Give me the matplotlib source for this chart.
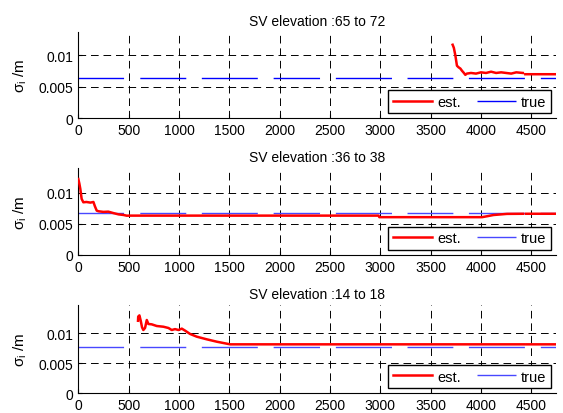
import numpy as np
import matplotlib
matplotlib.use('Agg')
import matplotlib.pyplot as plt

plt.rcParams['font.family'] = ['Liberation Sans', 'DejaVu Sans']
plt.rcParams['font.size'] = 10
plt.rcParams['lines.scale_dashes'] = False

titles = ['SV elevation :65 to 72', 'SV elevation :36 to 38', 'SV elevation :14 to 18']

# estimated sigma_i per run (nan = break in the trace)
est_x1 = [3718, 3730, 3745, 3761, 3777, 3795, 3811, 3830, 3844, 3860, 3877, 3900,
          3950, 4000, 4050, 4100, 4150, 4200, 4250, 4300, 4350, 4415, np.nan, 4440, 4745]
est_y1 = [0.01168, 0.0112, 0.0100, 0.00835, 0.0081, 0.0079, 0.00755, 0.0072, 0.0069,
          0.0071, 0.00714, 0.0072, 0.0071, 0.0073, 0.0072, 0.0074, 0.0072, 0.0073,
          0.0072, 0.0071, 0.0073, 0.0072, np.nan, 0.0070, 0.0070]

est_x2 = [0, 10, 20, 33, 50, 80, 120, 150, 165, 183, 200, 250, 298, 350, 400, 450,
          481, 520, 1000, 2000, 2982, 2990, 3500, 4010, 4060, 4125, 4200, 4258, 4415,
          np.nan, 4445, 4745]
est_y2 = [0.0122, 0.0115, 0.0106, 0.0090, 0.00845, 0.0085, 0.0084, 0.0085, 0.0078,
          0.0071, 0.0070, 0.0069, 0.00694, 0.0067, 0.0065, 0.0064, 0.00629, 0.0063,
          0.0063, 0.0063, 0.0063, 0.00605, 0.00605, 0.00605, 0.0062, 0.0064, 0.0065,
          0.00658, 0.0066, np.nan, 0.0066, 0.0066]

est_x3 = [593, 595, 607, 620, 633, 646, 663, 680, 696, 729, 779, 845, 895, 928, 961,
          995, 1028, 1061, 1110, 1177, 1276, 1376, 1475, 1508, 4425, np.nan, 4450, 4745]
est_y3 = [0.0121, 0.0128, 0.0130, 0.0121, 0.0110, 0.01055, 0.0109, 0.01223, 0.01156,
          0.0115, 0.01122, 0.0111, 0.01089, 0.01055, 0.0107, 0.01055, 0.01078, 0.01044,
          0.00989, 0.00943, 0.00899, 0.00859, 0.00826, 0.00815, 0.00815, np.nan,
          0.00815, 0.00815]

true_vals = [0.00644, 0.00668, 0.00765]
true_x = [0, 4745]

est_x = [est_x1, est_x2, est_x3]
est_y = [est_y1, est_y2, est_y3]
ymax = [0.01375, 0.01398, 0.01474]
true_colors = ['#0000ff', '#4848ff', '#4848ff']

xticks = list(range(0, 5000, 500))
yticks = [0, 0.005, 0.01]
ytick_labels = ['0', '0.005', '0.01']

# broken "true" line, dash lengths in points
true_dash = (0, (32.8, 11.7, 33.1, 11.2, 40.3, 11.4, 33.4, 11.4, 40.4, 11.2,
                 33.0, 11.2, 40.3, 11.5, 40.0, 11.0))

fig = plt.figure(figsize=(5.63, 4.14), dpi=100)
positions = [[0.1391, 0.7118, 0.8485, 0.2092],
             [0.1391, 0.3824, 0.8485, 0.2094],
             [0.1391, 0.0483, 0.8485, 0.2126]]

for i in range(3):
    ax = fig.add_axes(positions[i])
    ax.plot(est_x[i], est_y[i], color='red', lw=1.8, label='est.', zorder=3)
    ax.plot(true_x, [true_vals[i]] * 2, color=true_colors[i], lw=1.0,
            linestyle=true_dash, label='true', zorder=2)
    ax.set_xlim(0, 4745)
    ax.set_ylim(0, ymax[i])
    ax.set_xticks(xticks)
    ax.set_yticks(yticks)
    ax.set_yticklabels(ytick_labels)
    ax.grid(True, color='black', lw=0.7, linestyle=(0, (5.5, 3.5)))
    ax.set_axisbelow(True)
    for s in ['top', 'right']:
        ax.spines[s].set_visible(False)
    ax.spines['left'].set_linewidth(0.8)
    ax.spines['bottom'].set_linewidth(0.8)
    ax.tick_params(direction='in', length=3, width=0.8, pad=3.5, labelsize=10)
    ax.set_title(titles[i], fontsize=10, pad=5)
    ax.set_ylabel(r'$\mathregular{\sigma_i}$ /m', fontsize=11, labelpad=7)
    leg = ax.legend(loc='lower right', ncol=2, fancybox=False, framealpha=1,
                    edgecolor='black', fontsize=10.5, handlelength=2.7,
                    handletextpad=0.35, columnspacing=1.1, borderpad=0.3,
                    borderaxespad=0.35)
    leg.get_frame().set_linewidth(1.0)

fig.savefig('out.png', dpi=100)
